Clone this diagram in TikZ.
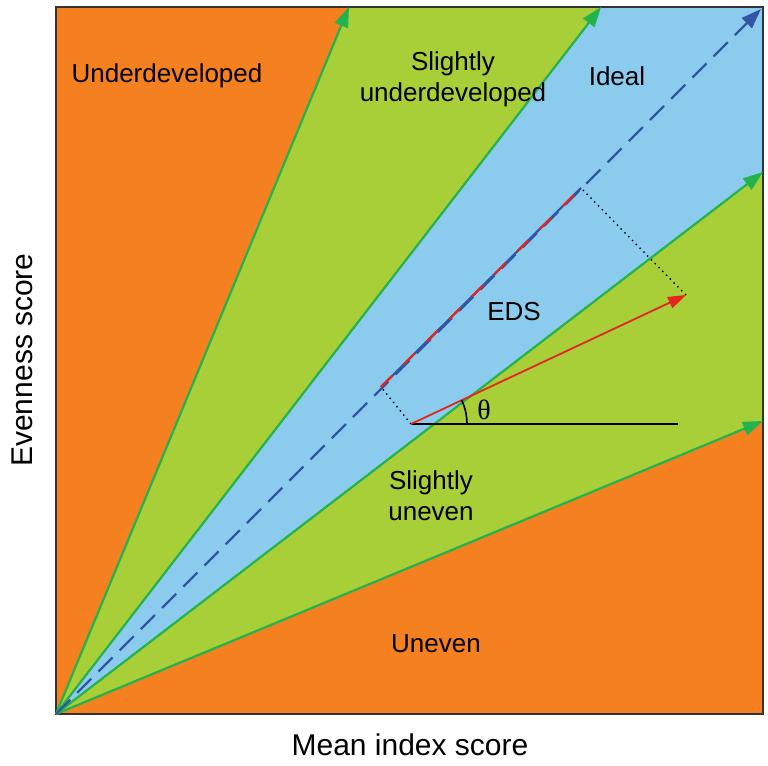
\documentclass[tikz,border=0pt]{standalone}
\usepackage{fontspec}
\setmainfont{Liberation Sans}
\newfontfamily\serifgreek{Liberation Serif}
\usetikzlibrary{arrows.meta}
\definecolor{orangeR}{RGB}{244,128,32}
\definecolor{limeR}{RGB}{168,206,56}
\definecolor{skyR}{RGB}{139,204,238}
\definecolor{lineG}{RGB}{36,178,76}
\definecolor{darkB}{RGB}{52,84,164}
\definecolor{redV}{RGB}{226,38,30}
\tikzset{
  bound/.style={draw=lineG, line width=1.1pt, -{Triangle[length=10pt,width=7pt]}},
  region/.style={font=\fontsize{13}{15.5}\selectfont, align=center, text=black},
  axlabel/.style={font=\fontsize{15}{18}\selectfont, text=black},
}
\begin{document}
\begin{tikzpicture}[x=0.5pt,y=-0.5pt]
\useasboundingbox (0,0) rectangle (768,766);
\fill[white] (0,0) rectangle (768,766);
% key points
\coordinate (O) at (56,714);
\coordinate (TL) at (56,7);
\coordinate (TR) at (763,7);
\coordinate (BR) at (763,714);
\coordinate (e1) at (349,7);
\coordinate (e2) at (601,7);
\coordinate (e3) at (761,9);
\coordinate (e4) at (763,172);
\coordinate (e5) at (763,421);
% fills
\fill[orangeR] (O) rectangle (TR);
\fill[limeR] (O) -- (e1) -- (TR) -- (e5) -- cycle;
\fill[skyR] (O) -- (e2) -- (TR) -- (e4) -- cycle;
% frame
\draw[black!80, line width=0.8pt] (O) rectangle (TR);
% boundaries
\draw[bound] (O) -- (e1);
\draw[bound] (O) -- (e2);
\draw[bound] (O) -- (e4);
\draw[bound] (O) -- (e5);
\draw[darkB, line width=1.2pt, dash pattern=on 10pt off 5pt, -{Triangle[length=10pt,width=7pt]}] (O) -- (e3);
% EDS construction
\coordinate (S) at (411,424);
\coordinate (V) at (686,295);
\coordinate (H) at (678,424);
\coordinate (P1) at (381,387);
\coordinate (P2) at (581,188);
\draw[black, line width=1pt] (S) -- (H);
\draw[black, line width=0.7pt, dash pattern=on 0.7pt off 2pt] (S) -- (P1);
\draw[black, line width=0.7pt, dash pattern=on 0.7pt off 2pt] (V) -- (P2);
\draw[darkB, line width=1.1pt] (P1) -- (P2);
\draw[redV, line width=1.1pt, dash pattern=on 8pt off 8pt] (P1) -- (P2);
\draw[redV, line width=0.9pt, -{Triangle[length=9pt,width=6pt]}] (S) -- (V);
\draw[black, line width=0.8pt] (467,424) arc[start angle=0, end angle=-25, radius=56];
\node[font=\serifgreek\fontsize{14}{16}\selectfont] (th) at (484,410) {θ};
% labels
\node[region] (und) at (167,76) {Underdeveloped};
\node[region] (sund) at (453,79) {Slightly\\underdeveloped};
\node[region] (ideal) at (617,76) {Ideal};
\node[region] (eds) at (514,312) {EDS};
\node[region] (suneven) at (431,496) {Slightly\\uneven};
\node[region] (uneven) at (436,644) {Uneven};
\node[axlabel] (xl) at (410,745) {Mean index score};
\node[axlabel, rotate=90] (yl) at (22,360) {Evenness score};
\end{tikzpicture}
\end{document}
